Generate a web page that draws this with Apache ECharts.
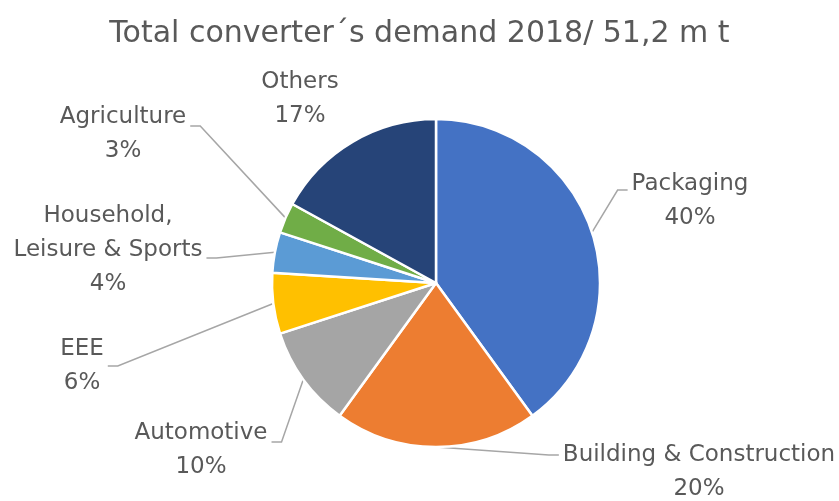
<!DOCTYPE html>
<html>
<head>
<meta charset="utf-8">
<script src="https://cdn.jsdelivr.net/npm/echarts@6/dist/echarts.min.js"></script>
<style>
  html, body { margin: 0; padding: 0; background: #ffffff; }
  #chart { width: 839px; height: 501px; }
</style>
</head>
<body>
<div id="chart"></div>
<script>
// Converter demand by segment, 2018 (share in %)
const categories = [
  'Packaging',
  'Building & Construction',
  'Automotive',
  'EEE',
  'Household,\nLeisure & Sports',
  'Agriculture',
  'Others'
];
const shares = [40, 20, 10, 6, 4, 3, 17];
const sliceColors = ['#4472C4', '#ED7D31', '#A5A5A5', '#FFC000', '#5B9BD5', '#70AD47', '#264478'];
const titleText = 'Total converter\u00B4s demand 2018/ 51,2 m t';

// Pie geometry
const CX = 436, CY = 283, R = 164;

// Label block centre, side its leader line meets, and vertical offset of that joint
const labelSpots = [
  [690, 201, 'left', -11],
  [699, 472, 'left', -17],
  [201, 450, 'right', -8],
  [82, 366, 'right', 0],
  [108, 250, 'right', 8],
  [123, 134, 'right', -8],
  [300, 99, null, 0]
];

const total = shares.reduce((a, b) => a + b, 0);
function edgePoint(i) {
  let before = 0;
  for (let k = 0; k < i; k++) before += shares[k];
  const mid = (before + shares[i] / 2) / total * Math.PI * 2; // clockwise from 12 o'clock
  return [CX + R * Math.sin(mid), CY - R * Math.cos(mid)];
}

const chart = echarts.init(document.getElementById('chart'), null, { renderer: 'canvas' });

chart.setOption({
  backgroundColor: '#ffffff',
  animation: false,
  title: {
    text: titleText,
    left: 'center',
    top: 14,
    textStyle: {
      fontFamily: 'DejaVu Sans',
      fontSize: 30,
      fontWeight: 'normal',
      color: '#595959'
    }
  },
  series: [{
    type: 'pie',
    center: [CX, CY],
    radius: [0, R],
    startAngle: 90,
    clockwise: true,
    avoidLabelOverlap: false,
    itemStyle: { borderColor: '#ffffff', borderWidth: 2.5 },
    label: {
      show: true,
      position: 'outside',
      formatter: '{b}\n{c}%',
      fontFamily: 'DejaVu Sans',
      fontSize: 23,
      lineHeight: 34,
      color: '#595959',
      align: 'center'
    },
    labelLine: {
      show: true,
      length: 10,
      length2: 10,
      lineStyle: { color: '#A6A6A6', width: 1.5 }
    },
    labelLayout: function (p) {
      const s = labelSpots[p.dataIndex];
      const out = { x: s[0], y: s[1], align: 'center', verticalAlign: 'middle' };
      if (s[2]) {
        const dir = s[2] === 'left' ? -1 : 1;
        const ex = s[0] + dir * (p.labelRect.width / 2 + 4);
        const ey = s[1] + s[3];
        out.labelLinePoints = [edgePoint(p.dataIndex), [ex + dir * 10, ey], [ex, ey]];
      }
      return out;
    },
    data: categories.map((name, i) => ({
      name: name,
      value: shares[i],
      itemStyle: { color: sliceColors[i] },
      labelLine: { show: labelSpots[i][2] !== null }
    }))
  }]
});
</script>
</body>
</html>
